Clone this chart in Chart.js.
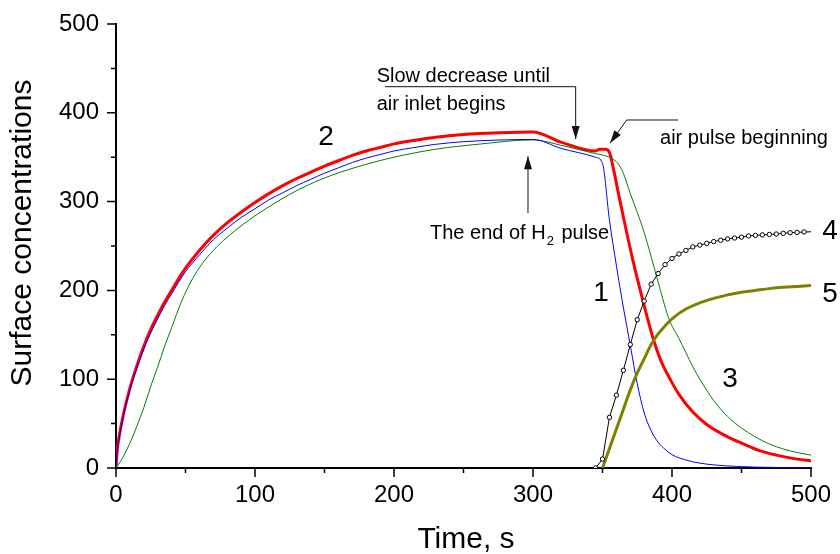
<!DOCTYPE html>
<html>
<head>
<meta charset="utf-8">
<script src="https://cdn.jsdelivr.net/npm/chart.js@4.4.0/dist/chart.umd.min.js"></script>
<style>
  html, body { margin: 0; padding: 0; background: #fff; }
  canvas { display: block; }
</style>
</head>
<body>
<canvas id="surfaceChart" width="840" height="554"></canvas>
<script>
// Curve 2 (red, thick)
const tRed = [0, 1, 2, 5, 10, 15, 20, 25, 30, 35, 40, 45, 50, 60, 70, 80, 90, 100, 110, 120, 130, 140, 150, 160, 170, 180, 190, 200, 215, 230, 250, 275, 300, 320, 345, 348, 352, 355, 358, 362, 367, 372, 378, 383, 387, 392, 399, 405, 415, 425, 440, 450, 463, 475, 490, 500];
const red = [0, 22, 33, 58, 90, 115, 137, 156, 172, 187, 200, 213, 225, 245, 262, 276, 288, 299, 309, 318, 326, 333, 340, 346, 352, 357, 361, 365, 369, 372.5, 375.5, 377.5, 378.5, 367, 357, 359, 359, 355.5, 336, 305, 268, 233, 195, 165, 143, 121, 99, 83, 63, 49, 35, 28, 19.5, 14.5, 10, 8];

// Curve 1 (blue)
const tBlue = [0, 1, 2, 5, 10, 15, 20, 25, 30, 35, 40, 45, 50, 60, 70, 80, 90, 100, 110, 120, 130, 140, 150, 160, 170, 180, 190, 200, 215, 230, 250, 275, 300, 320, 345, 350, 355, 360, 364, 370, 375, 380, 385, 390, 395, 400, 410, 420, 430, 440, 460, 480, 500];
const blue = [0, 20, 31, 56, 88, 112, 134, 152, 168, 183, 196, 209, 221, 240, 257, 270, 282, 292, 302, 310, 318, 325, 332, 338, 344, 349, 353, 357, 361, 364.5, 367.5, 369.3, 370, 360, 350, 343, 279, 228, 190, 138, 95, 62, 42, 29, 21, 15, 9, 5.5, 3.5, 2.3, 1, 0.5, 0.2];

// Curve 3 (green)
const tGreen = [0, 3, 6, 10, 15, 20, 25, 30, 35, 40, 47, 55, 62, 70, 80, 92, 100, 116, 132, 154, 180, 200, 230, 260, 300, 320, 345, 350, 355, 358, 362, 365, 370, 375, 380, 385, 391, 398, 405, 415, 420, 430, 440, 450, 460, 470, 480, 490, 500];
const green = [0, 7, 15, 28, 47, 68, 92, 114, 137, 158, 187, 213, 230, 245, 260, 275, 284, 300, 314, 329, 342, 350, 359, 364.5, 369.5, 363.5, 354, 352.5, 350, 347.5, 341, 332, 309, 288, 265, 238, 204, 167, 146, 114, 100, 76, 58, 45, 35, 27, 21.5, 17.5, 14.5];

// Curve 4 (black with open circles)
const tBlack = [345, 350, 355, 360, 365, 370, 375, 380, 385, 390, 395, 400, 405, 410, 415, 420, 425, 430, 435, 440, 445, 450, 455, 460, 465, 470, 475, 480, 485, 490, 495, 500];
const black = [0, 10, 57, 82, 110, 139, 167, 188, 207, 219, 229, 236, 241, 245, 249, 251, 253, 255, 256.5, 258, 259, 260, 261.3, 262, 262.5, 263, 263.5, 264.3, 265, 265.3, 265.8, 266];

// Curve 5 (olive, thick)
const tOlive = [350, 355, 360, 365, 370, 375, 380, 385, 390, 395, 400, 410, 420, 430, 440, 450, 460, 470, 480, 490, 500];
const olive = [0, 22, 44, 66, 88, 107, 123, 139, 151, 160, 168, 179, 186, 191, 195, 198, 200, 202, 203.5, 204.5, 205.5];

const yTicks = [0, 100, 200, 300, 400, 500];
const xTicks = [0, 100, 200, 300, 400, 500];

function pairs(ts, vs) {
    return ts.map((t, i) => ({ x: t, y: vs[i] }));
}

Chart.defaults.font.family = '"Liberation Sans", Arial, sans-serif';
Chart.defaults.color = '#000';

// Ticks, axis titles, arrows and curve labels
const decorPlugin = {
    id: 'decor',
    afterDraw(chart) {
        const { ctx, chartArea: area, scales: { x, y } } = chart;
        const px = v => x.getPixelForValue(v);
        const py = v => y.getPixelForValue(v);
        ctx.save();

        // major + minor tick marks, pointing outwards
        ctx.strokeStyle = '#000';
        ctx.lineWidth = 1.5;
        ctx.beginPath();
        for (let v = 0; v <= 500; v += 50) {
            const len = v % 100 === 0 ? 9 : 5;
            ctx.moveTo(area.left - len, py(v));
            ctx.lineTo(area.left, py(v));
            ctx.moveTo(px(v), area.bottom);
            ctx.lineTo(px(v), area.bottom + len);
        }
        ctx.stroke();

        // axis titles
        ctx.fillStyle = '#000';
        ctx.font = '30px "Liberation Sans", Arial, sans-serif';
        ctx.textAlign = 'center';
        ctx.textBaseline = 'alphabetic';
        ctx.fillText('Time, s', 466, 548);
        ctx.save();
        ctx.translate(23, 233);
        ctx.rotate(-Math.PI / 2);
        ctx.textBaseline = 'middle';
        ctx.fillText('Surface concentrations', 0, 0);
        ctx.restore();

        // arrows
        ctx.strokeStyle = '#111';
        ctx.fillStyle = '#111';
        ctx.lineWidth = 1;
        const arrow = (pts) => {
            const p = pts.map(([a, b]) => [px(a), py(b)]);
            ctx.beginPath();
            ctx.moveTo(p[0][0], p[0][1]);
            for (let i = 1; i < p.length; i++) ctx.lineTo(p[i][0], p[i][1]);
            ctx.stroke();
            const [x2, y2] = p[p.length - 1];
            const [x1, y1] = p[p.length - 2];
            const ang = Math.atan2(y2 - y1, x2 - x1);
            const L = 13, W = 4;
            ctx.beginPath();
            ctx.moveTo(x2, y2);
            ctx.lineTo(x2 - L * Math.cos(ang) + W * Math.sin(ang), y2 - L * Math.sin(ang) - W * Math.cos(ang));
            ctx.lineTo(x2 - L * Math.cos(ang) - W * Math.sin(ang), y2 - L * Math.sin(ang) + W * Math.cos(ang));
            ctx.closePath();
            ctx.fill();
        };
        arrow([[296.4, 287], [296.4, 351]]);
        arrow([[193.5, 429.4], [330.7, 429.4], [330.7, 370.5]]);
        arrow([[404.3, 391.9], [367.4, 391.9], [355.4, 365.7]]);

        // annotation texts
        ctx.fillStyle = '#000';
        ctx.textAlign = 'left';
        ctx.textBaseline = 'middle';
        ctx.font = '20px "Liberation Sans", Arial, sans-serif';
        ctx.fillText('Slow decrease until', px(187.5), py(441.4));
        ctx.fillText('air inlet begins', px(187.5), py(409.9));
        ctx.fillText('air pulse beginning', px(391.4), py(371.6));
        const hx = px(225.9), hy = py(264.6);
        ctx.fillText('The end of H', hx, hy);
        const w1 = ctx.measureText('The end of H').width;
        ctx.font = '13px "Liberation Sans", Arial, sans-serif';
        ctx.fillText('2', hx + w1 + 1, hy + 8);
        const w2 = ctx.measureText('2').width;
        ctx.font = '20px "Liberation Sans", Arial, sans-serif';
        ctx.fillText(' pulse', hx + w1 + w2 + 3, hy);

        // curve numbers
        ctx.textAlign = 'center';
        ctx.font = '28px "Liberation Sans", Arial, sans-serif';
        ctx.fillText('2', px(151.1), py(372.7));
        ctx.fillText('1', px(348.9), py(197));
        ctx.fillText('3', px(441.7), py(100.2));
        ctx.fillText('4', px(513.7), py(266.9));
        ctx.fillText('5', px(513.7), py(195.9));

        ctx.restore();
    }
};

new Chart(document.getElementById('surfaceChart'), {
    type: 'line',
    data: {
        datasets: [
            {
                label: '2', data: pairs(tRed, red), order: 5,
                borderColor: '#ff0000', borderWidth: 3, pointRadius: 0,
                cubicInterpolationMode: 'monotone'
            },
            {
                label: '3', data: pairs(tGreen, green), order: 4,
                borderColor: '#008000', borderWidth: 1, pointRadius: 0,
                cubicInterpolationMode: 'monotone'
            },
            {
                label: '1', data: pairs(tBlue, blue), order: 3,
                borderColor: '#0000ff', borderWidth: 1, pointRadius: 0,
                cubicInterpolationMode: 'monotone'
            },
            {
                label: '5', data: pairs(tOlive, olive), order: 2,
                borderColor: '#808000', borderWidth: 3, pointRadius: 0,
                cubicInterpolationMode: 'monotone'
            },
            {
                label: '4', data: pairs(tBlack, black), order: 1,
                borderColor: '#000', borderWidth: 1, tension: 0,
                pointRadius: tBlack.map((t, i) => i === tBlack.length - 1 ? 0 : 2.2),
                pointBorderWidth: 1, pointBackgroundColor: '#fff', pointBorderColor: '#000'
            }
        ]
    },
    options: {
        responsive: false,
        animation: false,
        devicePixelRatio: 1,
        layout: { padding: { top: 24, right: 29, left: 0, bottom: 0 } },
        plugins: {
            legend: { display: false },
            tooltip: { enabled: false }
        },
        scales: {
            x: {
                type: 'linear', min: 0, max: 500,
                afterFit: s => { s.height = 86; s.paddingLeft = 0; s.paddingRight = 0; },
                afterBuildTicks: s => { s.ticks = xTicks.map(v => ({ value: v })); },
                grid: { display: false, drawTicks: false },
                border: { display: true, color: '#000', width: 2 },
                ticks: { padding: 13, maxRotation: 0, autoSkip: false, font: { size: 24 } }
            },
            y: {
                type: 'linear', min: 0, max: 500,
                afterFit: s => { s.width = 116; s.paddingTop = 0; s.paddingBottom = 0; },
                afterBuildTicks: s => { s.ticks = yTicks.map(v => ({ value: v })); },
                grid: { display: false, drawTicks: false },
                border: { display: true, color: '#000', width: 2 },
                ticks: { padding: 17, autoSkip: false, font: { size: 24 } }
            }
        }
    },
    plugins: [decorPlugin]
});
</script>
</body>
</html>
